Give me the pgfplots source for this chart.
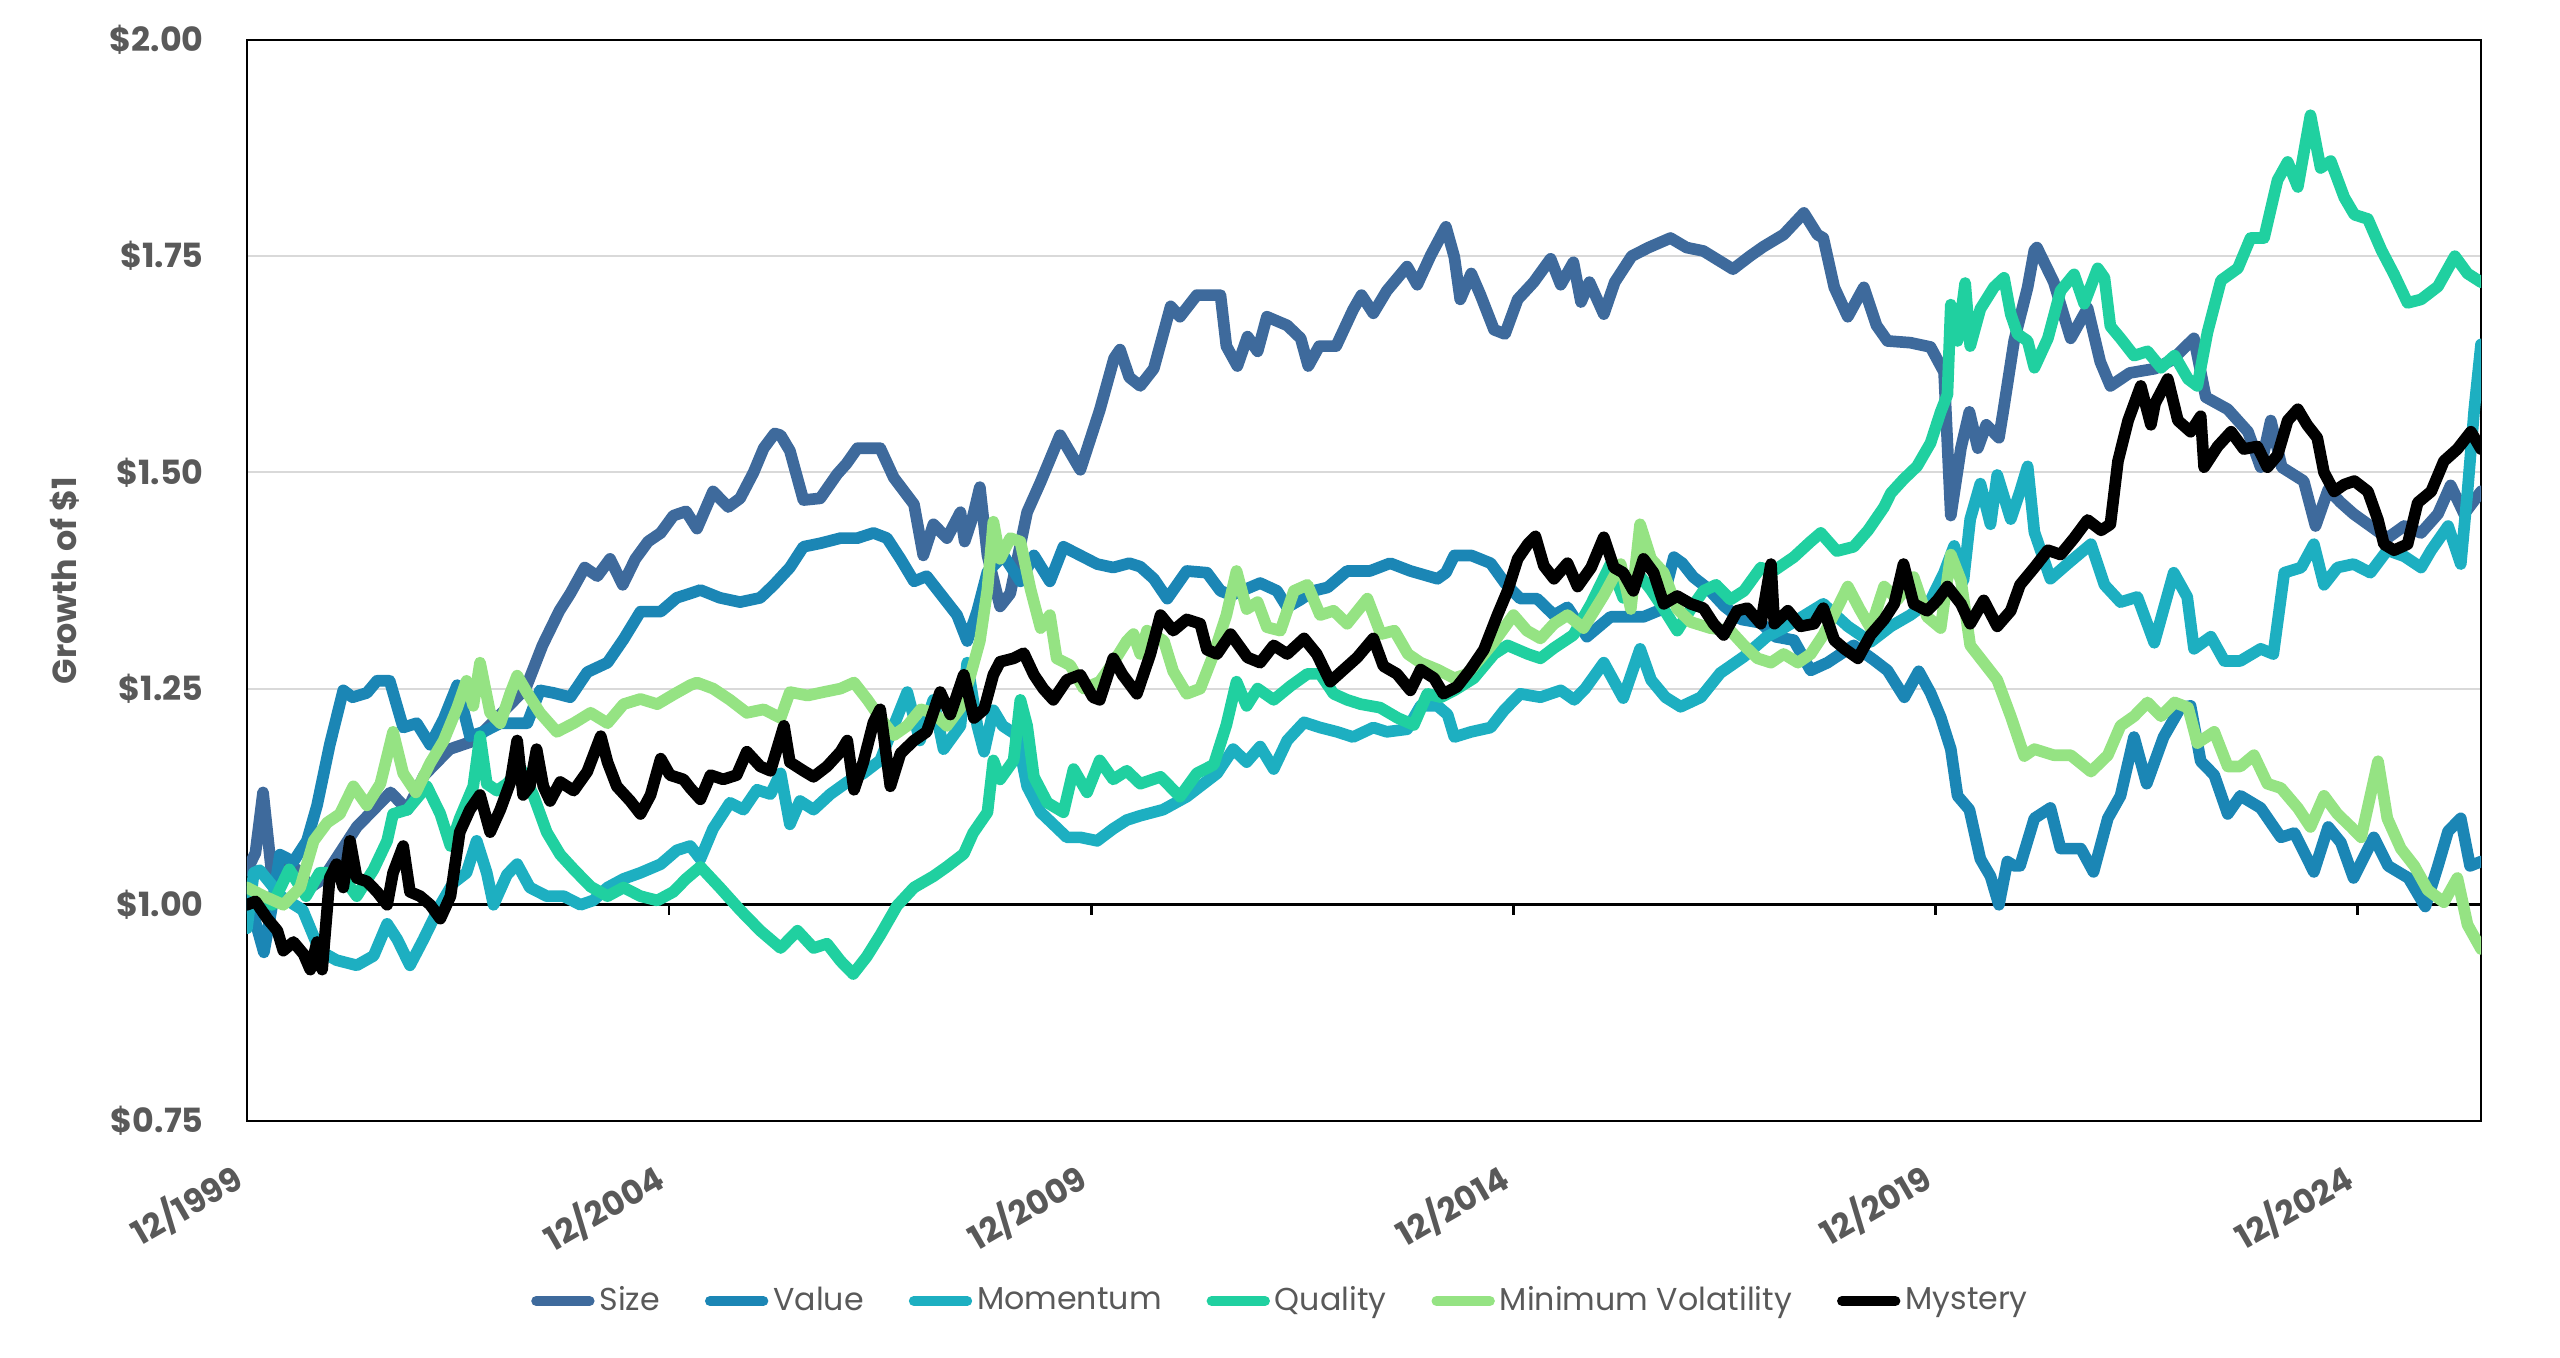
\documentclass[border=0pt]{standalone}
\usepackage{fontspec}
\setmainfont{Poppins}
\usepackage{pgfplots}
\pgfplotsset{compat=1.18}
\definecolor{sizec}{RGB}{62,106,156}
\definecolor{valuec}{RGB}{27,134,181}
\definecolor{momc}{RGB}{29,175,193}
\definecolor{qualc}{RGB}{32,208,160}
\definecolor{minvc}{RGB}{149,227,131}
\definecolor{labelgray}{RGB}{89,89,89}
\definecolor{gridgray}{RGB}{217,217,217}
\tikzset{ser/.style={line width=3.5pt, line join=round, line cap=round}}
\begin{document}
\begin{tikzpicture}
\begin{axis}[
  scale only axis, width=670.2pt, height=324.3pt,
  xmin=0, xmax=26.46, ymin=0.75, ymax=2.0,
  xtick={0,5,10,15,20,25},
  xticklabels={12/1999,12/2004,12/2009,12/2014,12/2019,12/2024},
  ytick={0.75,1.0,1.25,1.5,1.75,2.0},
  yticklabels={\$0.75,\$1.00,\$1.25,\$1.50,\$1.75,\$2.00},
  major tick length=0pt,
  ymajorgrids, grid style={draw=gridgray, line width=0.6pt},
  extra y ticks={1}, extra y tick labels={},
  extra y tick style={grid style={draw=black, line width=0.8pt}},
  axis line style={black, line width=0.8pt},
  tick label style={font=\bfseries\fontsize{10}{12}\selectfont, text=labelgray},
  yticklabel style={xshift=-9.5pt},
  xticklabel style={rotate=30, anchor=north east, inner sep=0pt, yshift=-7pt, xshift=-10pt},
  ylabel={Growth of \$1},
  ylabel style={at={(axis description cs:-0.0815,0.5)}, anchor=center, font=\bfseries\fontsize{10}{12}\selectfont, text=labelgray},
  legend columns=6,
  legend style={at={(axis description cs:0.4633,-0.1665)}, anchor=center, draw=none, fill=none,
    font=\fontsize{9.5}{11}\selectfont, text=labelgray,
    nodes={inner sep=1.5pt},
    /tikz/every even column/.append style={column sep=12pt}},
  legend image code/.code={\draw[#1, line width=3pt, line cap=round] (0pt,0pt) -- (16pt,0pt);},
]
\pgfplotsinvokeforeach{5,10,15,20,25}{\draw[black, line width=0.8pt] (axis cs:#1,1) -- ++(0pt,-3pt);}
% Size
\addplot[sizec, ser] table {
0 1.04
0.1 1.06
0.19 1.13
0.3 1.03
0.45 1.05
0.6 1.04
0.75 1.02
0.9 1.03
1.1 1.06
1.3 1.09
1.5 1.11
1.7 1.13
1.9 1.11
2.1 1.15
2.4 1.18
2.7 1.19
3.0 1.22
3.3 1.25
3.5 1.30
3.7 1.34
3.83 1.36
4.0 1.39
4.15 1.38
4.3 1.40
4.45 1.37
4.6 1.40
4.75 1.42
4.9 1.43
5.05 1.45
5.2 1.455
5.33 1.435
5.52 1.478
5.7 1.46
5.84 1.47
6.0 1.50
6.12 1.528
6.25 1.545
6.32 1.543
6.43 1.525
6.59 1.468
6.79 1.47
6.99 1.498
7.1 1.51
7.23 1.528
7.5 1.528
7.66 1.494
7.9 1.463
8.01 1.404
8.13 1.44
8.29 1.424
8.45 1.454
8.5 1.42
8.6 1.45
8.68 1.483
8.77 1.404
8.92 1.345
9.04 1.36
9.24 1.454
9.4 1.489
9.63 1.543
9.87 1.503
10.1 1.572
10.27 1.632
10.34 1.642
10.45 1.61
10.58 1.60
10.74 1.62
10.94 1.692
11.05 1.68
11.25 1.705
11.53 1.705
11.6 1.646
11.73 1.623
11.85 1.657
11.97 1.64
12.08 1.68
12.32 1.67
12.48 1.655
12.57 1.623
12.7 1.646
12.9 1.646
13.1 1.688
13.2 1.705
13.34 1.684
13.5 1.71
13.74 1.738
13.86 1.717
14.02 1.751
14.2 1.784
14.3 1.749
14.37 1.70
14.5 1.73
14.61 1.705
14.77 1.665
14.9 1.66
15.05 1.70
15.24 1.72
15.44 1.747
15.56 1.717
15.71 1.743
15.8 1.697
15.9 1.72
16.07 1.683
16.2 1.72
16.4 1.75
16.6 1.76
16.86 1.771
17.05 1.76
17.25 1.756
17.6 1.735
17.8 1.75
17.96 1.761
18.2 1.775
18.44 1.80
18.6 1.775
18.67 1.771
18.8 1.714
18.96 1.68
19.15 1.714
19.3 1.67
19.43 1.652
19.7 1.65
19.94 1.645
20.1 1.616
20.18 1.45
20.3 1.528
20.4 1.57
20.5 1.528
20.6 1.555
20.75 1.54
20.8 1.57
20.93 1.652
21.09 1.714
21.17 1.757
21.2 1.76
21.4 1.72
21.6 1.655
21.8 1.69
21.95 1.628
22.07 1.60
22.3 1.615
22.6 1.62
22.8 1.63
23.06 1.655
23.2 1.587
23.46 1.573
23.7 1.547
23.85 1.506
23.97 1.56
24.1 1.506
24.36 1.49
24.5 1.438
24.65 1.48
24.8 1.465
24.95 1.452
25.15 1.438
25.35 1.424
25.55 1.438
25.75 1.43
25.95 1.452
26.1 1.485
26.26 1.452
26.46 1.478
};
\addlegendentry{Size}
% Value
\addplot[valuec, ser] table {
0 1.015
0.1 0.98
0.2 0.945
0.3 1.0
0.39 1.058
0.55 1.05
0.71 1.074
0.83 1.115
0.98 1.185
1.14 1.248
1.25 1.24
1.42 1.245
1.54 1.259
1.69 1.259
1.85 1.205
2.01 1.21
2.17 1.185
2.33 1.215
2.49 1.254
2.64 1.195
2.8 1.20
3.0 1.21
3.15 1.21
3.32 1.21
3.47 1.248
3.63 1.245
3.83 1.24
4.03 1.269
4.27 1.28
4.46 1.307
4.66 1.339
4.9 1.339
5.09 1.355
5.25 1.36
5.37 1.364
5.6 1.355
5.84 1.35
6.08 1.355
6.24 1.37
6.43 1.39
6.59 1.414
6.79 1.418
7.03 1.424
7.23 1.424
7.42 1.43
7.58 1.424
7.74 1.40
7.9 1.374
8.05 1.38
8.25 1.355
8.41 1.335
8.53 1.305
8.65 1.34
8.77 1.385
8.96 1.404
9.16 1.374
9.32 1.404
9.51 1.374
9.67 1.414
9.87 1.404
10.07 1.394
10.26 1.39
10.45 1.395
10.58 1.391
10.74 1.377
10.9 1.354
11.13 1.386
11.37 1.384
11.53 1.363
11.66 1.358
12.0 1.372
12.2 1.363
12.32 1.344
12.48 1.353
12.63 1.363
12.8 1.367
13.03 1.386
13.3 1.386
13.54 1.395
13.78 1.386
14.1 1.377
14.2 1.384
14.3 1.404
14.5 1.404
14.73 1.395
14.9 1.372
15.08 1.354
15.28 1.354
15.48 1.335
15.64 1.344
15.87 1.31
16.15 1.333
16.54 1.333
16.74 1.341
16.9 1.402
17.0 1.395
17.13 1.379
17.3 1.366
17.5 1.345
17.7 1.33
17.93 1.326
18.1 1.31
18.32 1.306
18.52 1.271
18.72 1.28
19.03 1.30
19.27 1.283
19.43 1.271
19.63 1.24
19.8 1.27
19.94 1.245
20.06 1.217
20.18 1.18
20.26 1.126
20.4 1.11
20.53 1.053
20.65 1.033
20.75 1.0
20.85 1.05
20.93 1.045
21.0 1.045
21.17 1.10
21.36 1.112
21.48 1.065
21.72 1.065
21.87 1.038
22.04 1.10
22.19 1.126
22.35 1.194
22.5 1.14
22.7 1.194
22.9 1.228
23.02 1.23
23.14 1.166
23.3 1.15
23.46 1.105
23.61 1.126
23.85 1.112
24.09 1.078
24.25 1.083
24.48 1.038
24.65 1.09
24.8 1.072
24.95 1.031
25.19 1.078
25.36 1.045
25.6 1.031
25.8 0.998
25.95 1.045
26.07 1.085
26.22 1.10
26.33 1.045
26.46 1.05
};
\addlegendentry{Value}
% Momentum
\addplot[momc, ser] table {
0 0.973
0.08 1.037
0.15 1.04
0.4 1.01
0.66 0.994
0.86 0.947
1.06 0.936
1.3 0.93
1.5 0.941
1.66 0.978
1.78 0.96
1.93 0.93
2.09 0.96
2.29 1.0
2.44 1.025
2.6 1.037
2.72 1.074
2.84 1.037
2.92 1.0
3.08 1.035
3.2 1.047
3.35 1.02
3.55 1.01
3.75 1.01
3.95 1.0
4.1 1.005
4.27 1.02
4.46 1.03
4.66 1.037
4.9 1.047
5.09 1.063
5.25 1.068
5.37 1.053
5.52 1.088
5.72 1.118
5.88 1.11
6.04 1.133
6.2 1.128
6.32 1.152
6.43 1.093
6.55 1.12
6.71 1.11
6.91 1.128
7.11 1.142
7.3 1.152
7.5 1.167
7.66 1.207
7.82 1.246
7.97 1.19
8.13 1.237
8.25 1.18
8.45 1.207
8.53 1.28
8.65 1.207
8.73 1.177
8.84 1.225
8.95 1.207
9.12 1.196
9.24 1.137
9.4 1.107
9.55 1.093
9.71 1.078
9.87 1.078
10.07 1.074
10.26 1.088
10.42 1.098
10.58 1.103
10.85 1.11
11.13 1.125
11.49 1.152
11.68 1.18
11.84 1.165
12.0 1.183
12.16 1.157
12.32 1.19
12.52 1.211
12.71 1.205
12.91 1.2
13.1 1.194
13.34 1.205
13.5 1.2
13.74 1.203
13.9 1.23
14.1 1.23
14.22 1.22
14.3 1.194
14.5 1.2
14.73 1.205
14.89 1.225
15.08 1.244
15.32 1.24
15.56 1.248
15.72 1.237
15.85 1.25
16.07 1.28
16.3 1.239
16.5 1.296
16.63 1.26
16.8 1.24
16.98 1.229
17.22 1.24
17.45 1.268
17.73 1.287
18.0 1.31
18.2 1.32
18.37 1.33
18.67 1.348
18.96 1.322
19.23 1.304
19.47 1.322
19.7 1.335
19.94 1.352
20.1 1.384
20.22 1.415
20.33 1.375
20.41 1.446
20.53 1.487
20.65 1.44
20.73 1.497
20.89 1.446
21.0 1.478
21.09 1.507
21.17 1.431
21.36 1.377
21.56 1.394
21.84 1.417
22.0 1.37
22.19 1.35
22.39 1.356
22.59 1.303
22.82 1.384
22.98 1.356
23.06 1.296
23.26 1.31
23.42 1.282
23.61 1.282
23.85 1.296
24.0 1.29
24.13 1.384
24.33 1.39
24.48 1.417
24.6 1.37
24.76 1.39
24.95 1.394
25.15 1.384
25.35 1.41
25.55 1.403
25.75 1.39
25.87 1.41
26.07 1.438
26.22 1.394
26.3 1.478
26.38 1.573
26.46 1.648
};
\addlegendentry{Momentum}
% Quality
\addplot[qualc, ser] table {
0 1.02
0.3 1.0
0.5 1.041
0.7 1.01
0.86 1.037
1.1 1.037
1.3 1.01
1.5 1.041
1.66 1.074
1.73 1.105
1.9 1.11
2.13 1.137
2.29 1.105
2.41 1.068
2.52 1.10
2.68 1.137
2.76 1.195
2.84 1.14
2.96 1.132
3.08 1.14
3.24 1.158
3.39 1.127
3.55 1.084
3.71 1.058
3.87 1.041
4.07 1.021
4.27 1.01
4.46 1.02
4.66 1.01
4.86 1.005
5.05 1.015
5.2 1.03
5.37 1.044
5.6 1.02
5.84 0.994
6.08 0.97
6.32 0.95
6.52 0.97
6.71 0.95
6.87 0.955
7.03 0.935
7.18 0.92
7.34 0.94
7.5 0.965
7.7 0.999
7.9 1.02
8.13 1.033
8.29 1.044
8.49 1.059
8.6 1.083
8.77 1.107
8.84 1.167
8.92 1.145
9.08 1.167
9.16 1.237
9.24 1.207
9.32 1.148
9.48 1.118
9.67 1.107
9.79 1.157
9.95 1.13
10.1 1.167
10.26 1.145
10.42 1.155
10.58 1.14
10.82 1.148
11.05 1.125
11.25 1.152
11.45 1.162
11.6 1.208
11.72 1.258
11.84 1.23
11.97 1.25
12.16 1.237
12.36 1.253
12.56 1.267
12.71 1.267
12.87 1.244
13.03 1.237
13.19 1.232
13.42 1.228
13.63 1.216
13.82 1.208
13.98 1.244
14.14 1.24
14.3 1.248
14.53 1.262
14.77 1.29
14.93 1.30
15.17 1.29
15.32 1.285
15.48 1.297
15.71 1.312
15.92 1.348
16.15 1.394
16.3 1.355
16.47 1.384
16.63 1.364
16.78 1.342
16.94 1.317
17.1 1.342
17.25 1.363
17.4 1.37
17.57 1.353
17.73 1.363
17.93 1.39
18.05 1.384
18.32 1.402
18.52 1.42
18.64 1.43
18.83 1.409
19.03 1.414
19.2 1.433
19.39 1.46
19.47 1.476
19.62 1.492
19.78 1.507
19.94 1.534
20.06 1.57
20.14 1.59
20.18 1.694
20.26 1.652
20.35 1.719
20.41 1.646
20.53 1.689
20.69 1.714
20.81 1.725
20.89 1.683
20.97 1.66
21.09 1.652
21.17 1.621
21.33 1.655
21.48 1.71
21.64 1.729
21.76 1.695
21.92 1.736
22.0 1.725
22.07 1.669
22.19 1.655
22.35 1.635
22.51 1.64
22.67 1.621
22.83 1.635
22.99 1.608
23.1 1.60
23.22 1.662
23.38 1.722
23.58 1.736
23.73 1.771
23.89 1.771
24.05 1.838
24.17 1.859
24.29 1.83
24.44 1.913
24.56 1.852
24.68 1.86
24.84 1.818
24.96 1.798
25.12 1.793
25.28 1.757
25.43 1.729
25.59 1.696
25.75 1.70
25.95 1.715
26.15 1.75
26.3 1.73
26.46 1.72
};
\addlegendentry{Quality}
% Minimum Volatility
\addplot[minvc, ser] table {
0 1.02
0.2 1.01
0.43 1.0
0.63 1.02
0.79 1.074
0.95 1.095
1.1 1.105
1.26 1.137
1.42 1.115
1.58 1.14
1.73 1.2
1.85 1.152
2.0 1.13
2.17 1.164
2.33 1.19
2.49 1.228
2.6 1.259
2.68 1.23
2.76 1.28
2.88 1.222
3.0 1.21
3.12 1.245
3.2 1.265
3.32 1.245
3.47 1.222
3.67 1.2
3.87 1.21
4.07 1.222
4.27 1.21
4.46 1.232
4.66 1.238
4.86 1.232
5.05 1.243
5.25 1.254
5.33 1.257
5.52 1.25
5.72 1.237
5.92 1.222
6.12 1.226
6.32 1.216
6.43 1.246
6.64 1.242
6.83 1.246
7.03 1.25
7.19 1.257
7.35 1.237
7.5 1.216
7.66 1.196
7.82 1.207
7.98 1.226
8.13 1.222
8.29 1.207
8.45 1.228
8.57 1.266
8.68 1.305
8.77 1.365
8.84 1.443
8.92 1.40
9.04 1.424
9.16 1.42
9.28 1.365
9.4 1.32
9.51 1.335
9.59 1.285
9.75 1.277
9.91 1.25
10.1 1.258
10.26 1.28
10.42 1.305
10.5 1.313
10.58 1.29
10.66 1.317
10.86 1.305
10.97 1.27
11.13 1.244
11.29 1.25
11.45 1.29
11.6 1.335
11.72 1.386
11.84 1.342
11.97 1.35
12.08 1.321
12.24 1.317
12.4 1.363
12.56 1.37
12.71 1.335
12.87 1.34
13.03 1.325
13.27 1.354
13.43 1.313
13.59 1.317
13.75 1.29
13.9 1.28
14.1 1.272
14.3 1.262
14.45 1.267
14.61 1.285
14.77 1.304
15.0 1.335
15.16 1.317
15.32 1.308
15.48 1.325
15.64 1.335
15.83 1.32
16.07 1.358
16.27 1.394
16.39 1.342
16.5 1.44
16.63 1.40
16.78 1.384
16.94 1.342
17.1 1.327
17.33 1.32
17.57 1.317
17.73 1.30
17.89 1.285
18.05 1.28
18.2 1.29
18.37 1.28
18.52 1.29
18.67 1.312
18.83 1.342
18.96 1.368
19.1 1.342
19.23 1.32
19.39 1.368
19.55 1.353
19.74 1.379
19.9 1.333
20.06 1.32
20.18 1.405
20.3 1.375
20.41 1.30
20.57 1.28
20.73 1.26
20.89 1.218
21.05 1.172
21.17 1.18
21.4 1.173
21.6 1.173
21.84 1.154
22.04 1.173
22.19 1.207
22.35 1.218
22.51 1.234
22.67 1.218
22.83 1.234
22.99 1.228
23.1 1.187
23.3 1.20
23.46 1.16
23.61 1.16
23.77 1.173
23.93 1.14
24.09 1.135
24.29 1.112
24.44 1.09
24.6 1.126
24.76 1.105
24.92 1.09
25.04 1.078
25.24 1.166
25.35 1.10
25.51 1.065
25.67 1.045
25.83 1.017
26.02 1.003
26.18 1.031
26.3 0.977
26.46 0.949
};
\addlegendentry{Minimum Volatility}
% Mystery
\addplot[black, ser] table {
0 1.0
0.1 1.004
0.24 0.984
0.36 0.97
0.43 0.947
0.55 0.957
0.67 0.943
0.75 0.925
0.83 0.957
0.89 0.925
0.98 1.031
1.06 1.047
1.14 1.02
1.22 1.074
1.3 1.031
1.42 1.027
1.54 1.015
1.66 1.0
1.73 1.037
1.85 1.068
1.93 1.015
2.05 1.01
2.17 1.0
2.29 0.984
2.41 1.01
2.52 1.084
2.64 1.11
2.76 1.127
2.88 1.084
3.0 1.11
3.12 1.142
3.2 1.19
3.27 1.127
3.35 1.137
3.43 1.18
3.51 1.137
3.59 1.12
3.71 1.142
3.87 1.132
4.03 1.154
4.19 1.195
4.27 1.165
4.38 1.137
4.54 1.12
4.66 1.105
4.78 1.127
4.9 1.169
5.01 1.15
5.17 1.145
5.25 1.135
5.37 1.122
5.49 1.15
5.64 1.145
5.8 1.15
5.92 1.177
6.08 1.16
6.2 1.155
6.36 1.207
6.43 1.165
6.59 1.155
6.71 1.148
6.87 1.16
7.03 1.177
7.11 1.19
7.19 1.133
7.3 1.165
7.42 1.211
7.5 1.226
7.62 1.137
7.74 1.175
7.9 1.19
8.05 1.2
8.21 1.246
8.33 1.22
8.49 1.266
8.61 1.216
8.73 1.226
8.84 1.266
8.92 1.281
9.08 1.285
9.2 1.291
9.32 1.266
9.43 1.25
9.55 1.237
9.71 1.26
9.87 1.266
10.02 1.24
10.1 1.237
10.26 1.285
10.37 1.266
10.54 1.244
10.7 1.29
10.82 1.335
10.97 1.317
11.13 1.33
11.29 1.325
11.37 1.295
11.49 1.29
11.65 1.313
11.85 1.286
12.0 1.28
12.16 1.30
12.32 1.29
12.52 1.308
12.67 1.29
12.83 1.258
12.99 1.272
13.15 1.286
13.34 1.308
13.46 1.276
13.62 1.267
13.78 1.248
13.9 1.272
14.06 1.262
14.17 1.244
14.33 1.252
14.49 1.272
14.65 1.295
14.81 1.335
14.93 1.363
15.05 1.40
15.17 1.417
15.26 1.426
15.36 1.392
15.48 1.377
15.64 1.395
15.76 1.368
15.92 1.39
16.07 1.425
16.19 1.39
16.3 1.384
16.42 1.363
16.54 1.40
16.66 1.384
16.78 1.348
16.94 1.357
17.1 1.348
17.25 1.343
17.37 1.325
17.49 1.312
17.65 1.34
17.77 1.343
17.93 1.325
18.05 1.394
18.09 1.325
18.25 1.34
18.4 1.322
18.56 1.325
18.67 1.343
18.8 1.306
18.92 1.296
19.08 1.285
19.23 1.312
19.39 1.33
19.51 1.348
19.62 1.394
19.74 1.348
19.9 1.34
20.02 1.352
20.14 1.368
20.3 1.348
20.41 1.325
20.57 1.352
20.73 1.322
20.89 1.34
21.0 1.37
21.17 1.39
21.33 1.41
21.48 1.405
21.64 1.424
21.8 1.445
21.96 1.433
22.07 1.44
22.16 1.513
22.28 1.56
22.43 1.60
22.55 1.555
22.6 1.58
22.75 1.608
22.87 1.56
23.02 1.547
23.14 1.565
23.18 1.506
23.34 1.53
23.5 1.547
23.65 1.527
23.81 1.53
23.93 1.506
24.05 1.52
24.17 1.56
24.29 1.573
24.4 1.555
24.52 1.54
24.6 1.50
24.72 1.478
24.84 1.486
24.96 1.49
25.12 1.478
25.24 1.445
25.31 1.417
25.43 1.41
25.59 1.417
25.71 1.465
25.87 1.478
26.02 1.513
26.18 1.527
26.34 1.547
26.46 1.527
};
\addlegendentry{Mystery}
\end{axis}
\path[use as bounding box] (-74.1pt,-70.8pt) rectangle (693.9pt,336.3pt);
\end{tikzpicture}
\end{document}
